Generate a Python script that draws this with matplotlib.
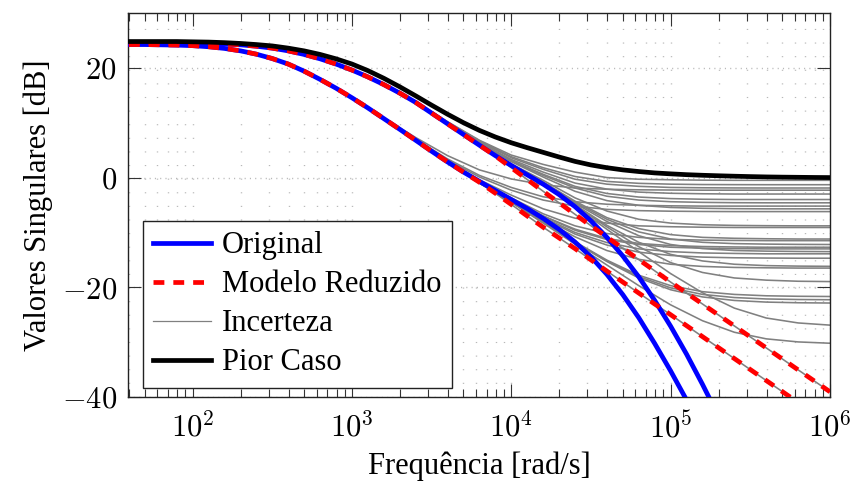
import matplotlib
matplotlib.use('Agg')
import matplotlib.pyplot as plt
from matplotlib.lines import Line2D
from matplotlib.ticker import LogLocator, NullFormatter

plt.rcParams['font.family'] = ['Liberation Serif', 'DejaVu Serif']
plt.rcParams['mathtext.fontset'] = 'cm'

# ---------------- data ----------------
freq_main = [39.8, 50.1, 63.1, 79.4, 100, 126, 158, 200, 251, 316, 398, 501, 631, 794,
             1000, 1259, 1585, 1995, 2512, 3162, 3981, 5012, 6310, 7943,
             1e4, 12589, 15849, 19953, 25119, 31623, 39811, 50119, 63096, 79433,
             1e5, 125893, 158489, 199526, 251189, 316228, 398107, 501187, 630957, 794328, 1e6]

orig_sv1 = [24.5, 24.5, 24.5, 24.5, 24.5, 24.45, 24.35, 24.2, 23.95, 23.6, 23.1, 22.45, 21.65, 20.7,
            19.6, 18.35, 16.95, 15.4, 13.7, 11.75, 9.8, 7.85, 5.9, 4.0,
            2.2, 0.5, -1.2, -3.1, -5.3, -7.9, -10.9, -14.3, -18.1, -22.4,
            -27.1, -32.2, -37.7, -43.5, -49.5, -55.5, -61.5, -67.5, -73.5, -79.5, -85.5]
red_sv1 = [24.5, 24.5, 24.5, 24.5, 24.5, 24.45, 24.35, 24.2, 23.95, 23.6, 23.1, 22.45, 21.65, 20.7,
           19.6, 18.35, 16.95, 15.4, 13.7, 11.75, 9.8, 7.85, 5.9, 3.95,
           1.8, -0.35, -2.5, -4.6, -6.7, -8.8, -10.85, -12.9, -14.95, -17.0,
           -19.05, -21.05, -23.05, -25.05, -27.05, -29.05, -31.05, -33.05, -35.05, -37.05, -39.05]
orig_sv2 = [24.25, 24.25, 24.2, 24.15, 24.05, 23.85, 23.55, 23.1, 22.5, 21.7, 20.7, 19.4, 17.9, 16.3,
            14.55, 12.7, 10.75, 8.8, 6.8, 4.8, 2.85, 1.0, -0.7, -2.35,
            -4.0, -5.65, -7.45, -9.45, -11.75, -14.45, -17.65, -21.35, -25.55, -30.25,
            -35.25, -40.55, -46.05, -51.75, -57.65, -63.65, -69.65, -75.65, -81.65, -87.65, -93.65]
red_sv2 = [24.25, 24.25, 24.2, 24.15, 24.05, 23.85, 23.55, 23.1, 22.5, 21.7, 20.7, 19.4, 17.9, 16.3,
           14.55, 12.7, 10.75, 8.8, 6.8, 4.8, 2.85, 1.0, -0.85, -2.85,
           -4.9, -7.0, -9.05, -11.0, -12.95, -15.0, -17.05, -19.05, -21.05, -23.05,
           -25.0, -27.0, -29.0, -31.0, -33.0, -35.0, -37.0, -39.0, -41.0, -43.0, -45.0]
worst = [24.8, 24.8, 24.8, 24.8, 24.75, 24.7, 24.6, 24.45, 24.25, 24.0, 23.6, 23.1, 22.45, 21.65,
         20.7, 19.5, 18.1, 16.55, 14.9, 13.2, 11.55, 10.0, 8.6, 7.4,
         6.35, 5.45, 4.6, 3.75, 2.95, 2.3, 1.8, 1.4, 1.1, 0.85,
         0.68, 0.53, 0.42, 0.33, 0.25, 0.18, 0.12, 0.08, 0.05, 0.02, 0.0]

freq_unc = [1000, 1585, 2512, 3981, 6310, 1e4, 1.585e4, 2.512e4, 3.981e4,
            6.31e4, 1e5, 1.585e5, 2.512e5, 3.981e5, 6.31e5, 1e6]

unc_01 = [19.6, 17.0, 13.9, 10.2, 6.8, 4.1, 2.4, 1.0, 0.0, -0.3, -0.4, -0.47, -0.5, -0.5, -0.5, -0.5]
unc_02 = [19.6, 17.0, 13.8, 10.1, 6.7, 3.8, 1.8, 0.2, -0.7, -1.05, -1.2, -1.27, -1.29, -1.3, -1.3, -1.3]
unc_03 = [19.6, 17.0, 13.8, 10.1, 6.6, 3.6, 1.5, -0.3, -1.2, -1.6, -1.8, -1.86, -1.89, -1.9, -1.9, -1.9]
unc_04 = [19.6, 17.0, 13.8, 10.0, 6.4, 3.3, 1.0, -1.0, -2.1, -2.65, -2.86, -2.95, -3.0, -3.0, -3.0, -3.0]
unc_05 = [19.6, 17.0, 13.75, 10.0, 6.3, 3.1, 0.6, -1.6, -2.9, -3.55, -3.83, -3.95, -4.0, -4.0, -4.0, -4.0]
unc_06 = [19.6, 17.0, 13.75, 10.0, 6.3, 3.0, 0.4, -1.9, -3.4, -4.1, -4.4, -4.52, -4.58, -4.6, -4.6, -4.6]
unc_07 = [19.6, 17.0, 13.75, 9.9, 6.2, 2.9, 0.1, -2.5, -4.2, -5.05, -5.45, -5.6, -5.67, -5.7, -5.7, -5.7]
unc_08 = [19.6, 17.0, 13.7, 9.85, 6.05, 2.5, -0.5, -3.7, -6.1, -7.6, -8.3, -8.6, -8.72, -8.77, -8.8, -8.8]
unc_09 = [19.6, 17.0, 13.7, 9.8, 6.0, 2.4, -0.8, -4.3, -7.3, -9.3, -10.4, -10.9, -11.07, -11.15, -11.2, -11.2]
unc_10 = [19.6, 17.0, 13.7, 9.8, 6.0, 2.35, -0.9, -4.5, -7.6, -9.9, -11.2, -11.8, -12.04, -12.13, -12.18, -12.2]
unc_11 = [19.6, 17.0, 13.7, 9.8, 5.95, 2.3, -0.95, -4.7, -8.0, -10.6, -12.2, -12.95, -13.3, -13.41, -13.47, -13.5]
unc_12 = [19.6, 17.0, 13.7, 9.8, 5.9, 2.25, -1.05, -4.95, -8.7, -11.8, -14.0, -15.2, -15.8, -16.05, -16.14, -16.18]
unc_13 = [19.6, 17.0, 13.7, 9.8, 5.9, 2.2, -1.13, -5.1, -9.0, -12.6, -15.5, -17.3, -18.3, -18.7, -18.9, -18.96]
unc_14 = [19.6, 17.0, 13.7, 9.8, 5.9, 2.2, -1.2, -5.27, -9.43, -13.5, -17.5, -21.0, -23.8, -25.6, -26.5, -26.9]
unc_15 = [19.6, 17.0, 13.7, 9.8, 5.9, 1.8, -2.5, -6.7, -10.85, -14.95, -19.05, -23.05, -27.05, -31.05, -35.05, -39.05]
unc_16 = [14.6, 10.9, 7.3, 4.0, 1.4, -0.25, -1.3, -1.9, -2.13, -2.23, -2.27, -2.3, -2.3, -2.3, -2.3, -2.3]
unc_17 = [14.55, 10.8, 7.0, 3.4, 0.4, -1.8, -3.5, -4.4, -4.86, -5.06, -5.15, -5.2, -5.2, -5.2, -5.2, -5.2]
unc_18 = [14.55, 10.8, 6.95, 3.2, 0.1, -2.3, -4.1, -5.2, -5.8, -6.03, -6.13, -6.18, -6.2, -6.2, -6.2, -6.2]
unc_19 = [14.55, 10.75, 6.9, 3.0, -0.4, -3.2, -5.7, -7.4, -8.3, -8.8, -8.96, -9.05, -9.1, -9.1, -9.1, -9.1]
unc_20 = [14.55, 10.75, 6.85, 2.95, -0.6, -3.7, -6.6, -8.8, -10.2, -10.9, -11.27, -11.4, -11.46, -11.5, -11.5, -11.5]
unc_21 = [14.55, 10.75, 6.8, 2.9, -0.7, -3.9, -7.0, -9.4, -11.1, -12.0, -12.4, -12.57, -12.65, -12.7, -12.7, -12.7]
unc_22 = [14.55, 10.75, 6.8, 2.9, -0.75, -3.95, -7.0, -9.6, -11.3, -12.2, -12.7, -12.87, -12.95, -13.0, -13.0, -13.0]
unc_23 = [14.55, 10.75, 6.8, 2.9, -0.8, -4.0, -7.25, -10.0, -11.85, -13.0, -13.5, -13.74, -13.83, -13.9, -13.9, -13.9]
unc_24 = [14.55, 10.75, 6.8, 2.85, -0.8, -4.1, -7.4, -10.3, -12.3, -13.6, -14.2, -14.5, -14.62, -14.67, -14.7, -14.7]
unc_25 = [14.55, 10.75, 6.8, 2.85, -0.9, -4.25, -7.7, -10.8, -13.3, -14.9, -15.8, -16.2, -16.38, -16.45, -16.5, -16.5]
unc_26 = [14.55, 10.75, 6.8, 2.85, -1.0, -4.4, -8.1, -11.7, -15.05, -17.8, -19.7, -20.8, -21.3, -21.55, -21.64, -21.68]
unc_27 = [14.55, 10.75, 6.8, 2.85, -1.0, -4.45, -8.13, -11.8, -15.2, -18.05, -20.1, -21.3, -21.87, -22.13, -22.23, -22.27]
unc_28 = [14.55, 10.75, 6.8, 2.85, -1.0, -4.47, -8.15, -11.85, -15.3, -18.3, -20.45, -21.76, -22.4, -22.7, -22.82, -22.87]
unc_29 = [14.55, 10.75, 6.8, 2.85, -1.0, -4.5, -8.3, -12.13, -15.94, -19.7, -23.2, -26.1, -28.2, -29.4, -29.96, -30.2]
unc_30 = [14.55, 10.75, 6.8, 2.85, -0.85, -4.9, -9.05, -12.95, -17.05, -21.05, -25.0, -29.0, -33.0, -37.0, -41.0, -45.0]

uncertainty = [unc_01, unc_02, unc_03, unc_04, unc_05, unc_06, unc_07, unc_08, unc_09, unc_10,
               unc_11, unc_12, unc_13, unc_14, unc_15, unc_16, unc_17, unc_18, unc_19, unc_20,
               unc_21, unc_22, unc_23, unc_24, unc_25, unc_26, unc_27, unc_28, unc_29, unc_30]

x_ticks = [1e2, 1e3, 1e4, 1e5, 1e6]
x_ticklabels = [r'$10^{2}$', r'$10^{3}$', r'$10^{4}$', r'$10^{5}$', r'$10^{6}$']
y_ticks = [-40, -20, 0, 20]
y_ticklabels = [r'$-40$', r'$-20$', r'$0$', r'$20$']

legend_labels = ['Original', 'Modelo Reduzido', 'Incerteza', 'Pior Caso']

# ---------------- figure ----------------
fig = plt.figure(figsize=(8.56, 4.95), dpi=100)
ax = fig.add_axes([0.1495, 0.198, 0.8201, 0.7757])
ax.set_xscale('log')
ax.set_xlim(39.3, 1e6)
ax.set_ylim(-40, 30)

lw_thick = 3.4
dash = (0, (2.3, 1.9))
for vals in uncertainty:
    ax.plot(freq_unc, vals, color='#808080', lw=1.15, zorder=2)
ax.plot(freq_main, orig_sv1, color='#0000ff', lw=lw_thick, zorder=3)
ax.plot(freq_main, orig_sv2, color='#0000ff', lw=lw_thick, zorder=3)
ax.plot(freq_main, red_sv1, color='#ff0000', lw=lw_thick, zorder=4,
        linestyle=dash, dash_capstyle='butt')
ax.plot(freq_main, red_sv2, color='#ff0000', lw=lw_thick, zorder=4,
        linestyle=dash, dash_capstyle='butt')
ax.plot(freq_main, worst, color='black', lw=lw_thick, zorder=5)

# ticks and grid
ax.xaxis.set_minor_locator(LogLocator(base=10, subs=range(2, 10), numticks=100))
ax.xaxis.set_minor_formatter(NullFormatter())
ax.set_xticks(x_ticks)
ax.set_xticklabels(x_ticklabels)
ax.set_yticks(y_ticks)
ax.set_yticklabels(y_ticklabels)
ax.tick_params(which='both', direction='in', top=True, right=True, width=0.8, color='#333333')
ax.tick_params(which='major', length=9.5, labelsize=22)
ax.tick_params(which='minor', length=6)
ax.tick_params(axis='x', which='major', pad=11)
ax.tick_params(axis='y', which='major', pad=8)

ax.grid(True, which='both', axis='x', color='#b8b8b8', lw=1.0, linestyle=(0, (0.8, 9.0)))
ax.grid(True, which='major', axis='y', color='#b8b8b8', lw=1.0, linestyle=(0, (0.8, 3.0)))
ax.set_axisbelow(True)

for s in ax.spines.values():
    s.set_linewidth(1.0)
    s.set_color('#222222')

ax.set_xlabel('Frequência [rad/s]', fontsize=22, labelpad=5)
ax.set_ylabel('Valores Singulares [dB]', fontsize=22, labelpad=6)

handles = [
    Line2D([], [], color='#0000ff', lw=lw_thick),
    Line2D([], [], color='#ff0000', lw=lw_thick, linestyle=dash, dash_capstyle='butt'),
    Line2D([], [], color='#808080', lw=0.9),
    Line2D([], [], color='black', lw=lw_thick),
]
leg = ax.legend(handles, legend_labels, loc='lower left', bbox_to_anchor=(0.021, 0.023),
                borderaxespad=0, fontsize=22, frameon=True, fancybox=False,
                framealpha=1, edgecolor='#222222', handlelength=1.9,
                handletextpad=0.35, labelspacing=0.33, borderpad=0.35)
leg.get_frame().set_linewidth(1.0)
leg.set_zorder(10)

fig.savefig('out.png', dpi=100)
